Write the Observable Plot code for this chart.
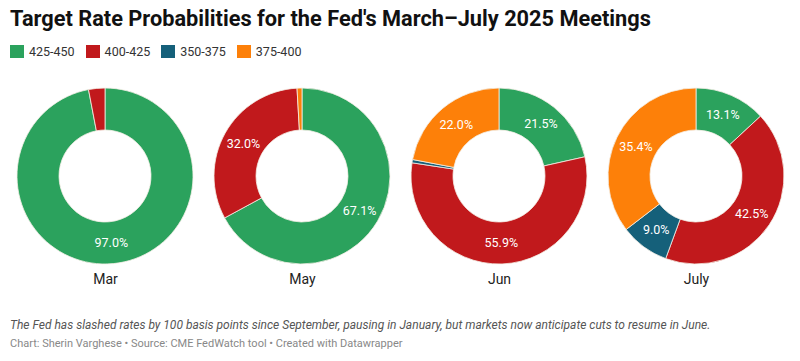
<!DOCTYPE html>
<html><head><meta charset="utf-8">
<script src="https://cdn.jsdelivr.net/npm/d3@7"></script>
<script src="https://cdn.jsdelivr.net/npm/@observablehq/plot@0.6"></script>
<style>
html,body{margin:0;padding:0;background:#fff}
body{font-family:Roboto,"Noto Sans",sans-serif;width:800px;height:361px;overflow:hidden;position:relative}
#title{position:absolute;left:10px;top:6px;font-size:21.75px;font-weight:700;color:#111;white-space:nowrap}
#legend{position:absolute;left:10px;top:44px;display:flex;font-size:12.5px;color:#333}
.item{display:flex;align-items:center;margin-right:11px}
.sw{width:14px;height:13px;margin-right:5px}
#chart{position:absolute;left:0;top:80px}
#caption{position:absolute;left:10px;top:318px;font-size:12px;font-style:italic;color:#555;white-space:nowrap}
#credit{position:absolute;left:10px;top:337px;font-size:11px;color:#888;white-space:nowrap}
</style></head>
<body>
<div id="title">Target Rate Probabilities for the Fed's March–July 2025 Meetings</div>
<div id="legend"></div>
<div id="chart"></div>
<div id="caption">The Fed has slashed rates by 100 basis points since September, pausing in January, but markets now anticipate cuts to resume in June.</div>
<div id="credit">Chart: Sherin Varghese • Source: CME FedWatch tool • Created with Datawrapper</div>
<script>
const meetings = ["Mar", "May", "Jun", "July"];
const ranges = ["425-450", "400-425", "350-375", "375-400"];
const colors = ["#2ba25d", "#c1191c", "#15607a", "#fd8009"];
const p425_450 = [97.0, 67.1, 21.5, 13.1];
const p400_425 = [3.0, 32.0, 55.9, 42.5];
const p350_375 = [0, 0, 0.6, 9.0];
const p375_400 = [0, 0.9, 22.0, 35.4];

const series = [p425_450, p400_425, p350_375, p375_400];
const rows = [];
meetings.forEach((m, i) => {
  ranges.forEach((r, j) => rows.push({meeting: m, range: r, value: series[j][i]}));
});

// legend
const leg = document.getElementById("legend");
ranges.forEach((r, j) => {
  const it = document.createElement("div"); it.className = "item";
  const sw = document.createElement("div"); sw.className = "sw"; sw.style.background = colors[j];
  const t = document.createElement("span"); t.textContent = r;
  it.appendChild(sw); it.appendChild(t); leg.appendChild(it);
});

const color = d3.scaleOrdinal(ranges, colors);
const innerR = 46, outerR = 88;

function donuts(index, scales, values, dims) {
  const g = d3.create("svg:g");
  const cy = dims.marginTop + (dims.height - dims.marginTop - dims.marginBottom) / 2;
  const arc = d3.arc().innerRadius(innerR).outerRadius(outerR);
  const pie = d3.pie().sort(null).value(d => d.value);
  for (const m of meetings) {
    const cx = scales.x(m);
    const data = pie(rows.filter(d => d.meeting === m));
    const gg = g.append("g").attr("transform", `translate(${cx},${cy})`);
    gg.selectAll("path").data(data.filter(d => d.data.value > 0)).join("path")
      .attr("d", arc)
      .attr("fill", d => color(d.data.range))
      .attr("stroke", "#f4efe6")
      .attr("stroke-width", 0.8);
    gg.selectAll("text").data(data.filter(d => d.data.value >= 5)).join("text")
      .attr("transform", d => `translate(${arc.centroid(d)})`)
      .attr("text-anchor", "middle")
      .attr("dy", "0.35em")
      .attr("fill", "#fff")
      .attr("font-size", 12.5)
      .attr("font-family", "Roboto, sans-serif")
      .text(d => d.data.value.toFixed(1) + "%");
  }
  return g.node();
}

const chart = Plot.plot({
  width: 800,
  height: 220,
  marginTop: 0,
  marginBottom: 28,
  marginLeft: 104,
  marginRight: 103,
  x: {type: "point", domain: meetings, padding: 0, axis: null},
  style: {fontFamily: "Roboto, sans-serif", background: "transparent"},
  marks: [
    donuts,
    Plot.text(meetings, {x: d => d, text: d => d, frameAnchor: "bottom", dy: 11, fontSize: 14, fill: "#222"})
  ]
});
document.getElementById("chart").appendChild(chart);
</script>
</body></html>
